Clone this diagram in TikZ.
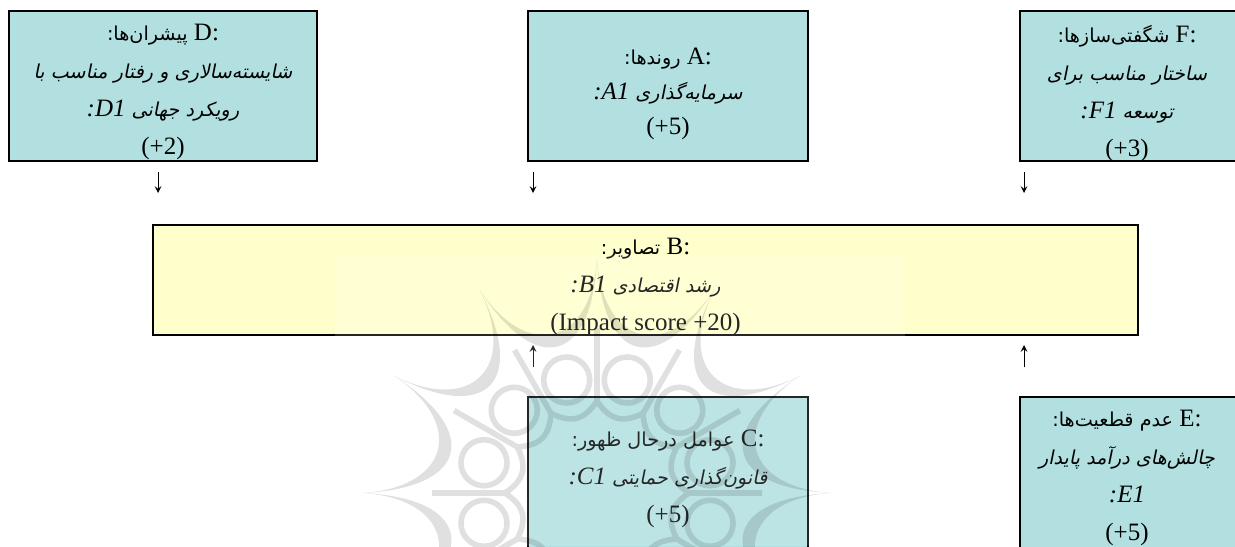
\documentclass[tikz,border=0pt]{standalone}
\usepackage{fontspec}
\setmainfont{Liberation Serif}
\newfontfamily\farsi[Script=Arabic]{DejaVu Sans}
\newfontfamily\farsiit[Script=Arabic,FakeSlant=0.2]{DejaVu Sans}
\TeXXeTstate=1
\usetikzlibrary{positioning}
\usetikzlibrary{arrows}
\definecolor{boxteal}{HTML}{B2E0E0}
\definecolor{boxyellow}{HTML}{FFFFCC}
\tikzstyle{box}=[rectangle,draw=black,line width=1pt,inner sep=0pt]
\tikzstyle{textline}=[align=center,font=\fontsize{12.5}{19}\selectfont,inner sep=0pt]
\tikzstyle{edge} = [draw,line width=0.5pt,->,>=stealth]
\tikzstyle{rosette} = [fill=black,draw=none]
\tikzstyle{rosetteline} = [draw=black,line width=2.8pt]
\newcommand{\headline}[2]{\beginR:\beginL #1\endL\ {\fontsize{9.6}{19}\selectfont\farsi #2:}\endR}
\newcommand{\subline}[1]{{\fontsize{9.6}{19}\selectfont\farsiit\beginR #1\endR}}
\newcommand{\subcode}[2]{\beginR{\fontsize{9.6}{19}\selectfont\farsiit #1\ }\beginL{\itshape #2}\endL{\itshape :}\endR}
\begin{document}
\begin{tikzpicture}[x=0.5pt,y=-0.5pt]
    \useasboundingbox (0,0) rectangle (1235,546);

    \foreach \pos/\name/\w/\h/\col in {{(163,86)/D/154pt/75pt/boxteal}, {(668,86)/A/140pt/75pt/boxteal}, {(1139.5,86)/F/120pt/75pt/boxteal}, {(645.5,280)/B/492.5pt/55pt/boxyellow}, {(668,482)/C/140pt/85pt/boxteal}, {(1139.5,482)/E/120pt/85pt/boxteal}}
        \node[box,fill=\col,minimum width=\w,minimum height=\h] (\name) at \pos {};

    \foreach \pos/\name/\label in {{(163,92)/Dtext/{\headline{D}{پیشران‌ها}\\\subline{شایسته‌سالاری و رفتار مناسب با}\\\subcode{رویکرد جهانی}{D1}\\(+2)}}, {(668,94)/Atext/{\headline{A}{روندها}\\[-1.5pt]\subcode{سرمایه‌گذاری}{A1}\\[-1.5pt](+5)}}, {(1127,94)/Ftext/{\headline{F}{شگفتی‌سازها}\\\subline{ساختار مناسب برای}\\\subcode{توسعه}{F1}\\(+3)}}, {(645.5,287)/Btext/{\headline{B}{تصاویر}\\\subcode{رشد اقتصادی}{B1}\\(Impact score +20)}}, {(668,479)/Ctext/{\headline{C}{عوامل درحال ظهور}\\\subcode{قانون‌گذاری حمایتی}{C1}\\(+5)}}, {(1127,478)/Etext/{\headline{E}{عدم قطعیت‌ها}\\\subline{چالش‌های درآمد پایدار}\\\beginL{\itshape :E1}\endL\\(+5)}}}
        \node[textline] (\name) at \pos {\label};

    \foreach \name/\x/\ya/\yb in {D/158/172/193, A/533/172/193, F/1024/172/193, C/533/367/345, E/1024/367/345} {
        \coordinate (\name start) at (\x,\ya);
        \coordinate (\name end) at (\x,\yb);
        \path[edge] (\name start) -- (\name end);
    }

    % faded emblem lying over everything
    \fill[white,opacity=0.15] (335,255) rectangle (905,546);
    \begin{scope}[shift={(597,493)},transparency group,opacity=0.12]
        \foreach \a in {0,30,...,330} {
            \fill[rosette] (\a:235) .. controls (\a+2:148) and (\a+28:148) .. (\a+30:235)
                .. controls (\a+28:130) and (\a+2:130) .. cycle;
            \draw[rosetteline] (\a+15:117) circle[radius=23];
            \draw[rosetteline] (\a:92) -- (\a:165);
            \draw[rosetteline] (\a:92) .. controls (\a+10:74) and (\a+20:74) .. (\a+30:92);
        }
    \end{scope}
\end{tikzpicture}
\end{document}
